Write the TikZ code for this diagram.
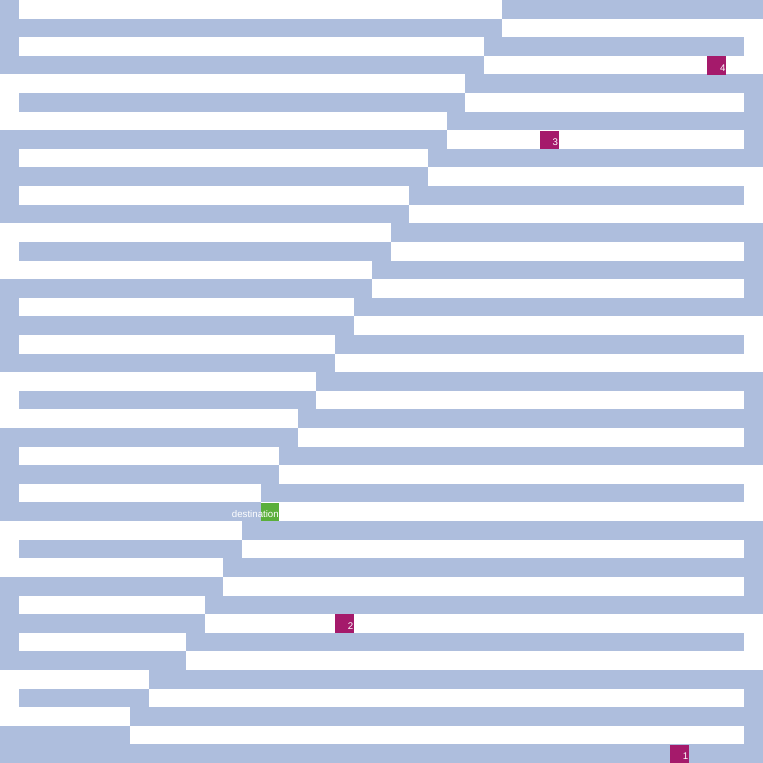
\documentclass[tikz,border=0pt]{standalone}
\usepackage{fontspec}
\setmainfont{Liberation Sans}
\usetikzlibrary{positioning}
\definecolor{mazeblue}{HTML}{AEBEDD}
\definecolor{stopplum}{HTML}{A51A6B}
\definecolor{goalgreen}{HTML}{5AAF3A}
\tikzset{
  % labyrint
  wall/.style={fill=mazeblue,draw=none},
  stopcell/.style={rectangle,fill=stopplum,draw=none,inner sep=0pt,
             minimum size=5mm,anchor=north west},
  goalcell/.style={stopcell,fill=goalgreen},
  cl/.style={text=white,font=\fontsize{7.4}{8}\selectfont,inner sep=0pt},
}

\begin{document}
\begin{tikzpicture}[x=5mm,y=-5mm]
\useasboundingbox (0,0) rectangle (41,41);
  % väggar: rad/från/till
  \foreach \r/\a/\b in {0/0/1,0/27/41,1/0/27,2/0/1,2/26/40,3/0/26,
      4/25/41,5/1/25,5/40/41,6/24/41,7/0/24,7/40/41,8/0/1,8/23/41,
      9/0/23,10/0/1,10/22/40,11/0/22,12/21/41,13/1/21,13/40/41,
      14/20/41,15/0/20,15/40/41,16/0/1,16/19/41,17/0/19,18/0/1,
      18/18/40,19/0/18,20/17/41,21/1/17,21/40/41,22/16/41,23/0/16,
      23/40/41,24/0/1,24/15/41,25/0/15,26/0/1,26/14/40,27/0/14,
      28/13/41,29/1/13,29/40/41,30/12/41,31/0/12,31/40/41,32/0/1,
      32/11/41,33/0/11,34/0/1,34/10/40,35/0/10,36/8/41,37/1/8,
      37/40/41,38/7/41,39/0/7,39/40/41,40/0/41}
    \fill[wall] (\a,\r) rectangle (\b,\r+1);
  % hållplatser
  \node[stopcell] (s1) at (36,40) {};
  \node[stopcell] (s2) at (18,33) {};
  \node[stopcell] (s3) at (29,7) {};
  \node[stopcell] (s4) at (38,3) {};
  \node[goalcell] (dest) at (14,27) {};
  \node[cl,above left=3pt and 0.5pt of s1.south east,anchor=base east] (l1) {1};
  \node[cl,above left=3pt and 0.5pt of s2.south east,anchor=base east] (l2) {2};
  \node[cl,above left=3pt and 0.5pt of s3.south east,anchor=base east] (l3) {3};
  \node[cl,above left=3pt and 0.5pt of s4.south east,anchor=base east] (l4) {4};
  \node[cl,above left=3.5pt and 0.5pt of dest.south east,anchor=base east] (ldest) {destination};
\end{tikzpicture}
\end{document}
